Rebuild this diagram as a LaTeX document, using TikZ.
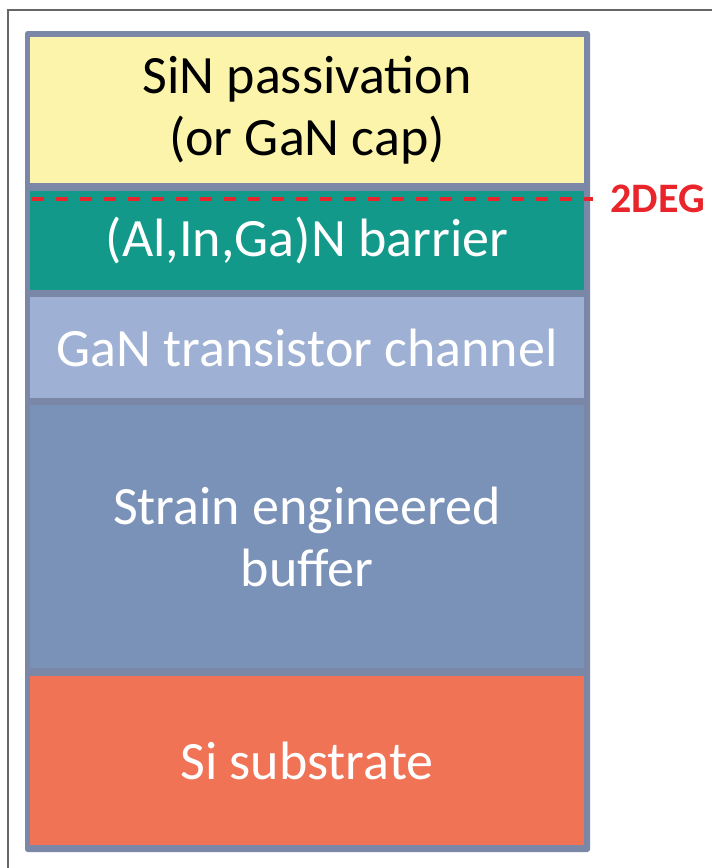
\documentclass[tikz,border=0pt]{standalone}
\usepackage{fontspec}
\setmainfont{Carlito}
\usetikzlibrary{positioning}
\definecolor{capyel}{RGB}{251,244,170}
\definecolor{barteal}{RGB}{18,153,138}
\definecolor{chanblu}{RGB}{158,177,212}
\definecolor{bufblu}{RGB}{122,145,184}
\definecolor{subred}{RGB}{240,115,86}
\definecolor{backgry}{RGB}{122,135,166}
\definecolor{degred}{RGB}{232,37,42}

\begin{document}
\begin{tikzpicture}[x=0.75pt,y=0.75pt,yscale=-1,xscale=1,
  layer/.style={rectangle, inner sep=0pt, minimum width=415.5pt, align=center,
    text=white, font=\fontsize{40.5}{46.5}\selectfont},
  twodeg/.style={degred, line width=2.8pt, dash pattern=on 9pt off 9pt}]
	\useasboundingbox (0,0) rectangle (712,868);

	% frame and backing
	\draw [gray!80!black, line width=0.8pt]   (8,875) -- (8,10) -- (720,10) ;
	\fill [backgry, rounded corners=2pt]   (25,31) rectangle (590,852) ;

	% layers
	\node [layer, fill=capyel, text=black, minimum height=109.5pt] (cap) at (307,110) {SiN passivation\\(or GaN cap)};
	\node [layer, fill=barteal, minimum height=74.25pt] (barrier) at (307,240.5) {(Al,In,Ga)N barrier};
	\node [layer, fill=chanblu, minimum height=75.75pt] (channel) at (307,347.5) {GaN transistor channel};
	\node [layer, fill=bufblu, minimum height=197.25pt] (buffer) at (307,536.5) {Strain engineered\\buffer};
	\node [layer, fill=subred, minimum height=126.75pt] (substrate) at (307,760.5) {Si substrate};

	% 2DEG
	\coordinate (degstart) at (32,199);
	\node [anchor=west, inner xsep=13pt, inner ysep=0pt, text=degred, font=\fontsize{31.5}{36}\selectfont\bfseries] (tdeg) at (593,199) {2DEG};
	\draw [twodeg]   (degstart) -- (tdeg.west) ;
\end{tikzpicture}
\end{document}
